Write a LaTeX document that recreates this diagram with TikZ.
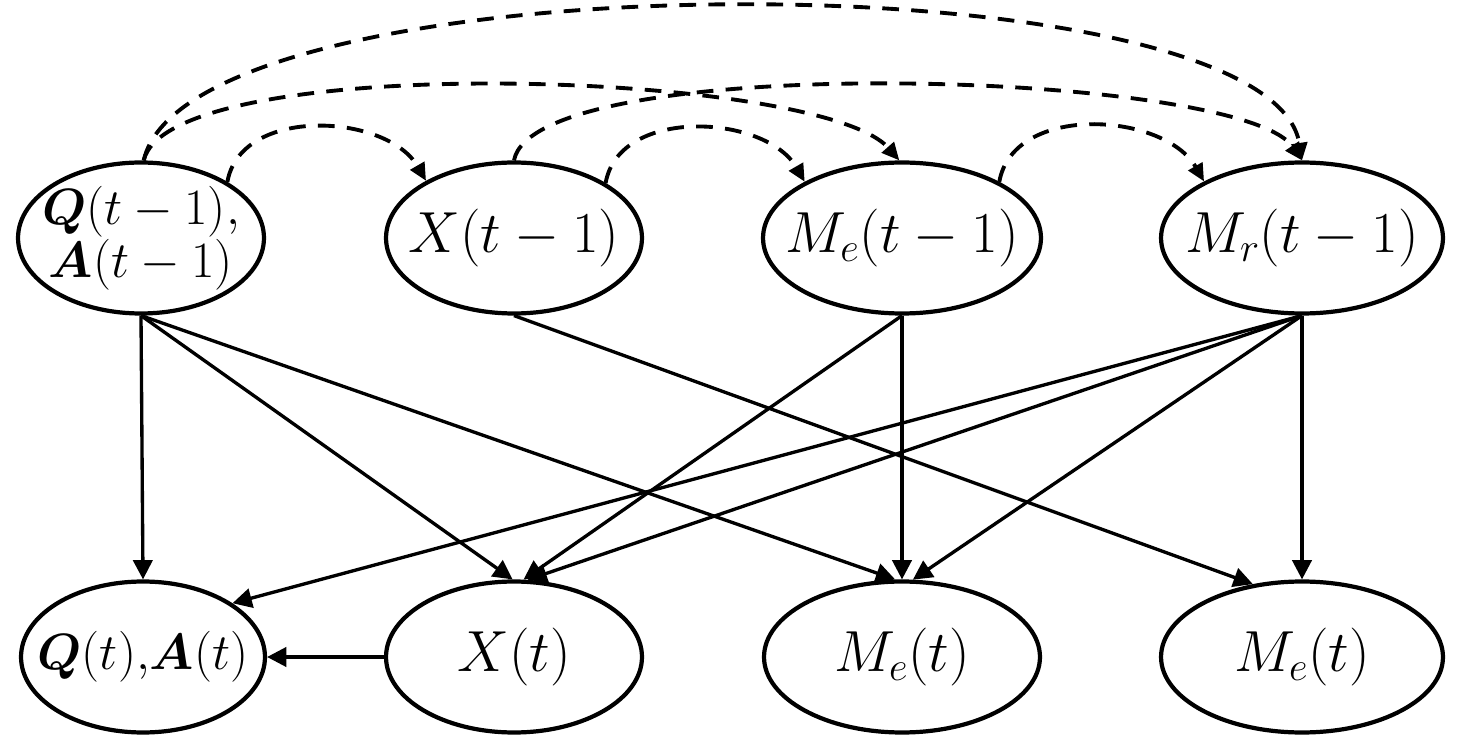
\RequirePackage{fix-cm}
\documentclass[tikz,border=0pt]{standalone}
\usepackage{amsmath}
\usetikzlibrary{shapes.geometric,arrows.meta}
\tikzset{
  ell/.style={ellipse, draw, line width=2.4pt, minimum height=3.02cm, inner sep=0pt},
  lbl/.style={font=\fontsize{33}{34}\selectfont, inner sep=0pt, align=center},
  lblsm/.style={font=\fontsize{29}{31}\selectfont, inner sep=0pt, align=center},
  arr/.style={line width=1.9pt, -{Triangle[length=11pt,width=11pt]}},
  darr/.style={line width=2.2pt, dash pattern=on 9.5pt off 7pt, -{Triangle[length=10pt,width=9pt]}},
}
\begin{document}
\begin{tikzpicture}[x=0.02cm,y=-0.02cm]
\useasboundingbox (0,0) rectangle (1461,736);
% top row
\node[ell, minimum width=4.92cm] (Q1) at (141,238) {};
\node[ell, minimum width=5.12cm] (X1) at (514,238) {};
\node[ell, minimum width=5.56cm] (E1) at (902,238) {};
\node[ell, minimum width=5.64cm] (R1) at (1302,238) {};
% bottom row
\node[ell, minimum width=4.88cm] (Q2) at (143,657) {};
\node[ell, minimum width=5.12cm] (X2) at (514,657) {};
\node[ell, minimum width=5.52cm] (E2) at (902,657) {};
\node[ell, minimum width=5.64cm] (R2) at (1302,657) {};
% labels
\node[lblsm] (Q1t) at (Q1) {$\boldsymbol{Q}(t-1),$\\[-1pt]$\boldsymbol{A}(t-1)$};
\node[lbl] (X1t) at (X1) {$X(t-1)$};
\node[lbl] (E1t) at (E1) {$M_e(t-1)$};
\node[lbl] (R1t) at (R1) {$M_r(t-1)$};
\node[lblsm] (Q2t) at (Q2) {$\boldsymbol{Q}(t){,}\boldsymbol{A}(t)$};
\node[lbl] (X2t) at (X2) {$X(t)$};
\node[lbl] (E2t) at (E2) {$M_e(t)$};
\node[lbl] (R2t) at (R2) {$M_e(t)$};
% solid arrows
\draw[arr] (Q1.south) -- (Q2.north);
\draw[arr] (Q1.south) -- (X2.91);
\draw[arr] (Q1.south) -- (E2.95);
\draw[arr] (X1.south) -- (R2.124);
\draw[arr] (E1.south) -- (E2.north);
\draw[arr] (E1.south) -- (X2.83);
\draw[arr] (R1.south) -- (Q2.31);
\draw[arr] (R1.south) -- (X2.80);
\draw[arr] (R1.south) -- (E2.82);
\draw[arr] (R1.south) -- (R2.north);
\draw[arr] (X2.west) -- (Q2.east);
% dashed arcs
\draw[darr] (Q1.33) to[out=80,in=120] (X1.147);
\draw[darr] (X1.31) to[out=80,in=120] (E1.150);
\draw[darr] (E1.30) to[out=80,in=120] (R1.150);
\draw[darr] (Q1.88) .. controls (170,50) and (820,70) .. (E1.92);
\draw[darr] (X1.north) .. controls (535,50) and (1240,70) .. (R1.north);
\draw[darr] (Q1.88) .. controls (190,-45) and (1270,-45) .. (R1.north);
\end{tikzpicture}
\end{document}
